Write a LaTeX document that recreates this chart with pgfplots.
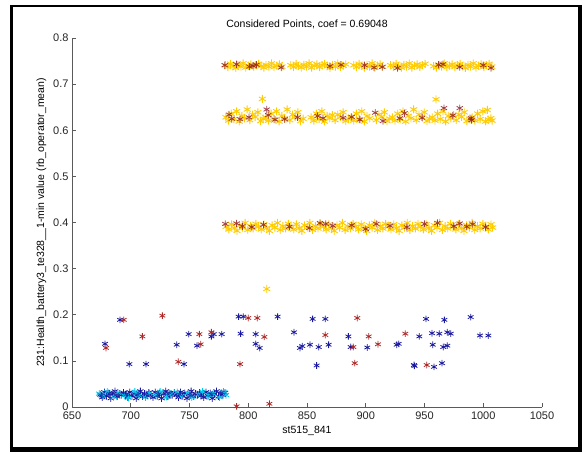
\documentclass[border=0pt]{standalone}
\usepackage{fontspec}
\setmainfont{Liberation Sans}
\usepackage{pgfplots}
\pgfplotsset{compat=1.18}
\definecolor{myyel}{RGB}{255,204,0}
\definecolor{mymar}{RGB}{140,20,30}
\definecolor{myred}{RGB}{175,40,40}
\definecolor{mynavy}{RGB}{25,25,160}
\definecolor{mycyan}{RGB}{0,200,235}
\definecolor{axgray}{RGB}{90,90,90}
\begin{document}
\begin{tikzpicture}
\path[use as bounding box] (0,0) rectangle (584bp,454bp);
\fill[white] (0,0) rectangle (584bp,454bp);
\begin{axis}[
  at={(72bp,47bp)}, anchor=south west, scale only axis,
  width=470bp, height=369bp,
  xmin=650, xmax=1050, ymin=0, ymax=0.8,
  axis x line*=bottom, axis y line*=left,
  axis line style={axgray, line width=0.6pt},
  tick style={axgray, line width=0.6pt},
  tick align=inside, major tick length=4bp,
  xtick={650,700,750,800,850,900,950,1000,1050},
  xticklabels={650,700,750,800,850,900,950,1000,1050},
  ytick={0,0.1,0.2,0.3,0.4,0.5,0.6,0.7,0.8},
  yticklabels={0,0.1,0.2,0.3,0.4,0.5,0.6,0.7,0.8},
  ticklabel style={font=\fontsize{11bp}{13bp}\selectfont, text=black!85},
  xticklabel style={yshift=-1bp},
  /pgf/number format/assume math mode=true,
  xlabel={st515\_841},
  ylabel={231:Health\_battery3\_te328\_\_1-min value (rb\_operator\_mean)},
  label style={font=\fontsize{10.5bp}{12bp}\selectfont},
  title={Considered Points, coef = 0.69048},
  title style={font=\fontsize{10.5bp}{12bp}\selectfont},
  clip=false,
  every axis plot/.append style={only marks, mark=asterisk, mark size=3.3bp, line width=0.8pt},
]
% yellow bands
\addplot[myyel, mark size=4bp, line width=0.9pt] coordinates {
(780.5,.741)(782.6,.737)(784.9,.744)(787.1,.739)(789.4,.735)(791.2,.742)(793.8,.738)(795.6,.745)(797.9,.736)(800.3,.740)(802.2,.743)(804.7,.737)(806.5,.741)(808.8,.744)(811.0,.739)(813.3,.736)(815.1,.742)(817.6,.738)(819.8,.745)(821.9,.737)(824.3,.740)(826.5,.743)(828.7,.738)
(836.2,.741)(838.5,.737)(840.7,.744)(842.6,.739)(845.1,.736)(847.3,.742)(849.5,.738)(851.8,.745)(853.9,.736)(856.2,.740)(858.4,.743)(860.7,.737)(862.9,.741)(865.0,.744)(867.3,.739)(869.6,.735)(871.7,.742)(874.1,.738)(876.2,.745)(878.5,.737)(880.8,.740)(883.0,.743)
(889.8,.741)(892.1,.737)(894.3,.744)(896.6,.739)(898.8,.736)(901.1,.742)(903.3,.738)(905.4,.745)(907.8,.736)(910.0,.740)(912.2,.743)(914.5,.738)
(921.2,.741)(923.5,.737)(925.8,.744)(928.0,.739)(930.3,.736)(932.5,.742)(934.7,.738)(937.0,.745)(939.2,.736)(941.5,.740)(943.7,.743)(946.0,.737)(948.2,.741)(950.5,.744)
(957.8,.739)(960.1,.736)(962.3,.742)(964.6,.738)(966.8,.745)(969.1,.737)(971.3,.740)(973.5,.743)(975.8,.737)(978.0,.741)(980.3,.744)(982.5,.739)(984.8,.735)(987.0,.742)(989.3,.738)(991.5,.745)(993.8,.736)(996.0,.740)(998.2,.743)(1000.5,.737)(1002.7,.741)(1005.0,.744)(1007.3,.738)
};
\addplot[myyel, mark size=4bp, line width=0.9pt] coordinates {
(781.0,.628)(783.3,.621)(785.5,.636)(787.8,.624)(790.1,.641)(792.3,.619)(794.6,.631)(796.9,.626)(799.1,.645)(801.4,.622)(803.7,.634)(805.9,.629)(808.2,.639)(810.5,.620)(812.7,.625)(815.0,.628)(817.3,.621)(819.5,.636)(821.8,.624)(824.1,.641)(826.3,.619)(828.6,.631)(830.9,.626)(833.1,.645)(835.4,.622)(837.7,.634)(839.9,.629)(842.2,.639)(844.5,.620)(846.7,.625)
(853.5,.628)(855.8,.621)(858.0,.636)(860.3,.624)(862.6,.641)(864.8,.619)(867.1,.631)(869.4,.626)(871.6,.633)(873.9,.622)(876.2,.634)(878.4,.629)(880.7,.639)(883.0,.620)(885.2,.625)(887.5,.628)(889.8,.621)(892.0,.636)(894.3,.624)(896.6,.641)(898.8,.619)(901.1,.631)(903.4,.626)
(909.0,.622)(911.3,.634)(913.6,.629)(915.8,.639)(918.1,.620)(920.4,.625)(922.6,.628)(924.9,.621)(927.2,.636)(929.4,.624)(931.7,.641)(934.0,.619)(936.2,.631)(938.5,.626)(940.8,.645)(943.0,.622)(945.3,.634)(947.6,.629)(949.8,.639)(952.1,.620)(954.4,.625)(956.6,.628)(958.9,.621)(961.2,.636)(963.4,.624)(965.7,.641)(968.0,.619)(970.2,.631)(972.5,.626)(974.8,.633)(977.0,.622)(979.3,.634)(981.6,.629)(983.8,.639)(986.1,.620)(988.4,.625)(990.6,.628)(992.9,.621)(995.2,.636)(997.4,.624)(999.7,.641)(1002.0,.619)(1004.2,.623)(1006.5,.626)(1003.5,.644)(1007.5,.621)
(812.0,.668)(959.8,.667)(815.7,.256)
};
\addplot[myyel, mark size=4bp, line width=0.9pt] coordinates {
(781.2,.391)(783.5,.385)(785.8,.396)(788.1,.388)(790.4,.382)(792.7,.394)(795.0,.389)(797.3,.399)(799.6,.384)(801.9,.392)(804.2,.387)(806.5,.397)(808.8,.391)(811.1,.385)(813.4,.396)(815.7,.388)(818.0,.382)(820.3,.394)(822.6,.389)(824.9,.399)(827.2,.384)(829.5,.392)(831.8,.387)(834.1,.397)(836.4,.391)(838.7,.385)(841.0,.396)(843.3,.388)(845.6,.382)(847.9,.394)(850.2,.389)(852.5,.399)(854.8,.384)(857.1,.392)(859.4,.387)(861.7,.397)(864.0,.391)(866.3,.385)(868.6,.396)(870.9,.388)(873.2,.382)(875.5,.394)(877.8,.389)(880.1,.399)(882.4,.384)(884.7,.392)(887.0,.387)(889.3,.397)(891.6,.391)(893.9,.385)(896.2,.396)(898.5,.388)(900.8,.382)(903.1,.394)(905.4,.389)(907.7,.399)(910.0,.384)(912.3,.392)(914.6,.387)(916.9,.397)(919.2,.391)(921.5,.385)(923.8,.396)(926.1,.388)(928.4,.382)(930.7,.394)(933.0,.389)(935.3,.399)(937.6,.384)(939.9,.392)(942.2,.387)(944.5,.397)(946.8,.391)(949.1,.385)(951.4,.396)(953.7,.388)(956.0,.382)(958.3,.394)(960.6,.389)(962.9,.399)(965.2,.384)(967.5,.392)(969.8,.387)(972.1,.397)(974.4,.391)(976.7,.385)(979.0,.396)(981.3,.388)(983.6,.382)(985.9,.394)(988.2,.389)(990.5,.399)(992.8,.384)(995.1,.392)(997.4,.387)(999.7,.397)(1002.0,.391)(1004.3,.385)(1006.6,.396)(1008.0,.389)
};
% maroon in bands
\addplot[mymar, opacity=0.8, mark size=3.6bp] coordinates {
(780,.741)(790,.743)(801,.738)(804,.740)(807,.742)(828,.736)(869.6,.739)(879,.742)(899,.741)(907,.736)(914,.737)(927,.735)(962,.742)(965.7,.743)(980,.737)(1000,.741)(1006.6,.735)
(783.6,.634)(786,.625)(793,.624)(800.6,.628)(815.7,.645)(817,.633)(822.8,.623)(831,.624)(842,.628)(859,.631)(863.6,.626)(880.7,.627)(888,.629)(895,.623)(908,.638)(914.7,.620)(929,.626)(933,.637)(948,.627)(966.6,.648)(974,.632)(980,.648)(989.6,.626)(990,.622)
(780.5,.397)(790,.398)(795,.392)(803,.390)(813,.395)(835,.391)(852,.388)(861,.399)(866,.397)(872,.393)(888,.394)(900,.386)(909,.397)(920.6,.393)(935,.390)(950,.397)(961,.399)(975,.392)(980,.398)(986,.391)(991,.396)(1002,.390)
};
% low dense band
\addplot[mynavy, mark size=3.6bp] coordinates {
(674.0,.027)(675.8,.021)(677.6,.032)(679.4,.024)(681.2,.030)(683.0,.019)(684.8,.028)(686.6,.034)(688.4,.023)(690.2,.029)(692.0,.026)(693.8,.031)(695.6,.027)(697.4,.021)(699.2,.032)(701.0,.024)(702.8,.030)(704.6,.019)(706.4,.028)(708.2,.034)(710.0,.023)(711.8,.029)(713.6,.026)(715.4,.031)(717.2,.027)(719.0,.021)(720.8,.032)(722.6,.024)(724.4,.030)(726.2,.019)(728.0,.028)(729.8,.034)(731.6,.023)(733.4,.029)(735.2,.026)(737.0,.031)(738.8,.027)(740.6,.021)(742.4,.032)(744.2,.024)(746.0,.030)(747.8,.019)(749.6,.028)(751.4,.034)(753.2,.023)(755.0,.029)(756.8,.026)(758.6,.031)(760.4,.027)(762.2,.021)(764.0,.032)(765.8,.024)(767.6,.030)(769.4,.019)(771.2,.028)(773.0,.034)(774.8,.023)(776.6,.029)(778.4,.026)(780.2,.031)
};
\addplot[mycyan, mark size=3.6bp] coordinates {
(673.2,.029)(676.5,.024)(680.0,.033)(685.5,.022)(689.0,.031)(694.5,.025)(698.0,.020)(703.5,.033)(707.0,.025)(712.5,.021)(716.0,.030)(721.5,.026)(725.0,.033)(730.5,.022)(734.0,.028)(739.5,.032)(743.0,.024)(748.5,.030)(752.0,.021)(757.5,.027)(761.0,.033)(766.5,.025)(770.0,.029)(775.5,.021)(779.0,.033)(781.0,.026)
};
\addplot[mynavy, opacity=0.7, mark size=3.4bp] coordinates {
(675.0,.025)(682.0,.029)(687.5,.026)(696.5,.028)(705.5,.026)(714.5,.024)(723.5,.027)(732.5,.031)(741.5,.027)(750.5,.025)(759.5,.024)(768.5,.027)(777.5,.031)
};
% scattered low points
\addplot[mynavy] coordinates {
(678.1,.137)(690.9,.189)(698.8,.093)(713,.093)(739.1,.135)(745.3,.093)(749.3,.158)(756.4,.133)(768.6,.153)(770.6,.158)(777.4,.158)(791.8,.196)(795.8,.196)(793.5,.159)(806.3,.158)(806.3,.137)(809.7,.128)(825,.196)(838.9,.162)(844,.128)(846,.132)(852.5,.135)(854.8,.191)(858.2,.090)(860,.130)(865.6,.191)(868.4,.135)(885.2,.153)(887.2,.130)(901.3,.129)(926.3,.135)(928,.137)(941,.091)(941.5,.089)(945.6,.153)(951.3,.191)(956.4,.160)(957,.135)(958.1,.087)(962.6,.159)(964.9,.095)(966,.130)(966.9,.189)(969.4,.162)(969.4,.133)(972.3,.159)(989.3,.195)(997.2,.155)(1004.3,.155)
};
\addplot[myred] coordinates {
(678.9,.128)(694,.189)(709.9,.153)(726.9,.198)(740.5,.098)(758.4,.158)(759.5,.136)(768.6,.162)(790.1,.0015)(793,.093)(800,.193)(807.7,.193)(813.7,.152)(818,.007)(865.6,.156)(889.4,.130)(890.6,.095)(892.8,.193)(902.5,.153)(910.4,.136)(933.7,.159)(951.9,.091)
};
\end{axis}
% figure frame
\draw[black, line width=3bp] (11.5bp,3bp) -- (11.5bp,448bp);
\draw[black, line width=2bp] (10bp,447.5bp) -- (582bp,447.5bp);
\draw[black, line width=4bp] (580bp,449bp) -- (580bp,2bp);
\draw[black, line width=5bp] (10bp,4.5bp) -- (582bp,4.5bp);
\end{tikzpicture}
\end{document}
